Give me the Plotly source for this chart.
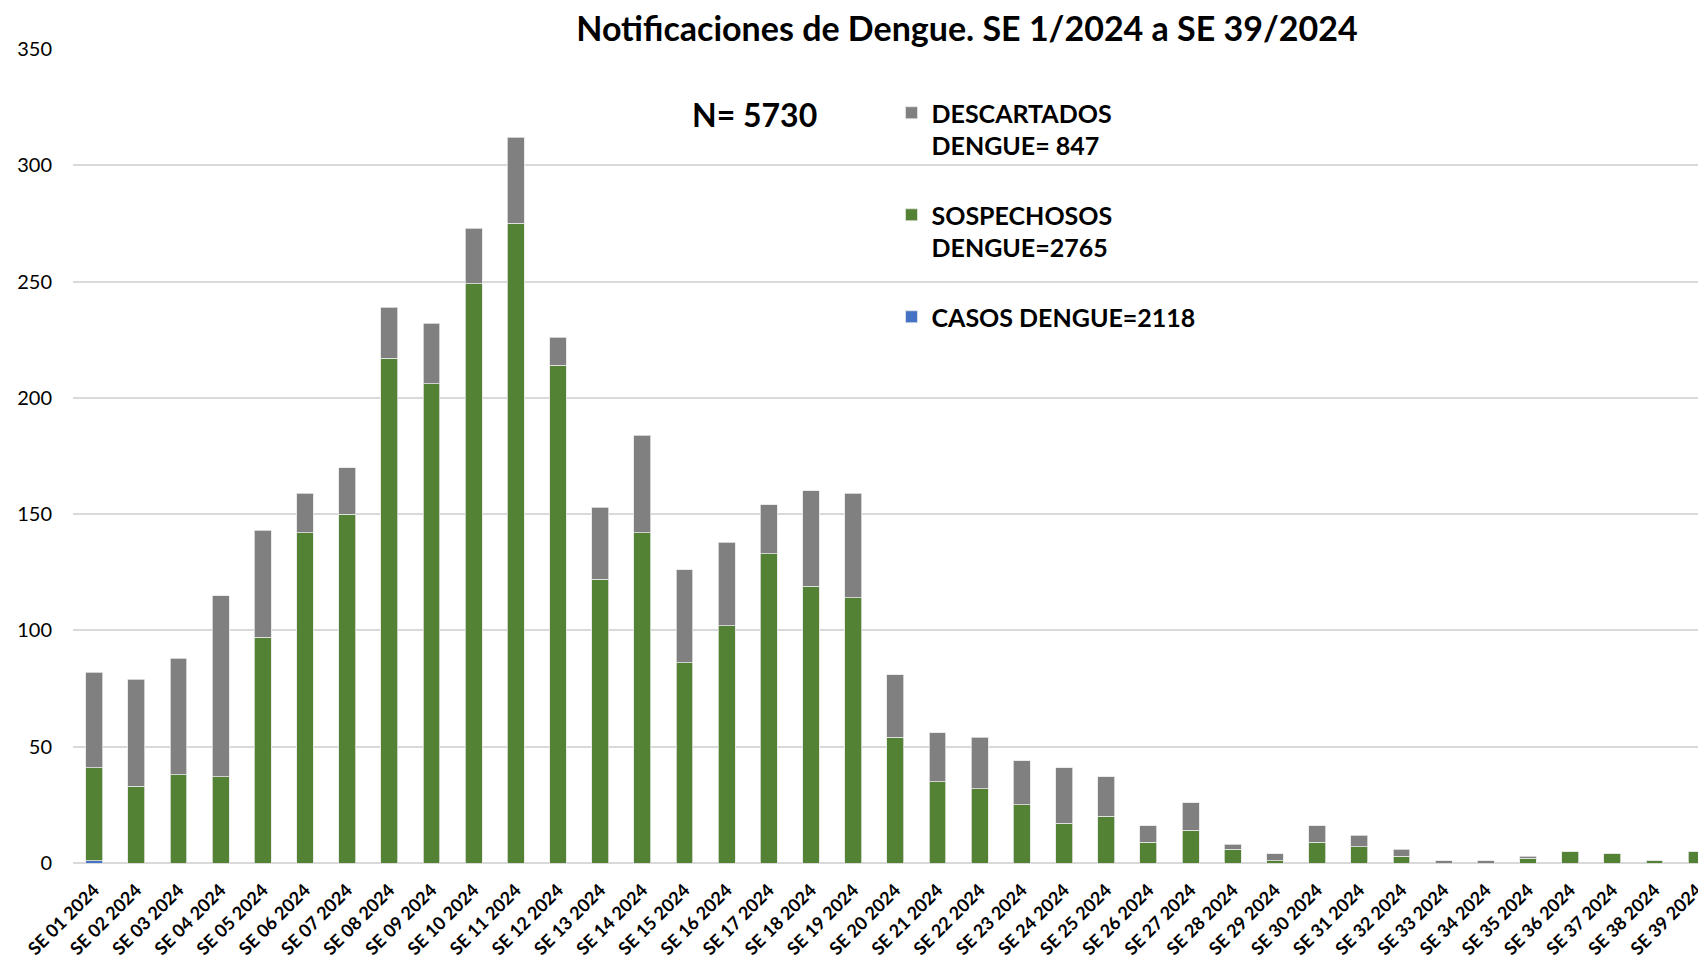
import plotly.graph_objects as go

semanas = ["SE 01 2024", "SE 02 2024", "SE 03 2024", "SE 04 2024", "SE 05 2024", "SE 06 2024",
           "SE 07 2024", "SE 08 2024", "SE 09 2024", "SE 10 2024", "SE 11 2024", "SE 12 2024",
           "SE 13 2024", "SE 14 2024", "SE 15 2024", "SE 16 2024", "SE 17 2024", "SE 18 2024",
           "SE 19 2024", "SE 20 2024", "SE 21 2024", "SE 22 2024", "SE 23 2024", "SE 24 2024",
           "SE 25 2024", "SE 26 2024", "SE 27 2024", "SE 28 2024", "SE 29 2024", "SE 30 2024",
           "SE 31 2024", "SE 32 2024", "SE 33 2024", "SE 34 2024", "SE 35 2024", "SE 36 2024",
           "SE 37 2024", "SE 38 2024", "SE 39 2024"]

casos = [1, 0, 0, 0, 0, 0, 0, 0, 0, 0, 0, 0, 0, 0, 0, 0, 0, 0, 0, 0,
         0, 0, 0, 0, 0, 0, 0, 0, 0, 0, 0, 0, 0, 0, 0, 0, 0, 0, 0]
sospechosos = [40, 33, 38, 37, 97, 142, 150, 217, 206, 249, 275, 214, 122, 142, 86, 102, 133, 119, 114, 54,
               35, 32, 25, 17, 20, 9, 14, 6, 1, 9, 7, 3, 0, 0, 2, 5, 4, 1, 5]
descartados = [41, 46, 50, 78, 46, 17, 20, 22, 26, 24, 37, 12, 31, 42, 40, 36, 21, 41, 45, 27,
               21, 22, 19, 24, 17, 7, 12, 2, 3, 7, 5, 3, 1, 1, 1, 0, 0, 0, 0]

nombres = ["CASOS DENGUE=2118", "SOSPECHOSOS<br>DENGUE=2765", "DESCARTADOS<br>DENGUE= 847"]
colores = ["#4472C4", "#548235", "#808080"]
rangos_leyenda = [3, 2, 1]
titulo = "Notificaciones de Dengue. SE 1/2024 a SE 39/2024"
total_texto = "N= 5730"
yticks = [0, 50, 100, 150, 200, 250, 300, 350]

FONT = "Lato, 'Open Sans', sans-serif"

fig = go.Figure()
for i, (vals, name, col, rk) in enumerate(zip([casos, sospechosos, descartados], nombres, colores, rangos_leyenda)):
    fig.add_trace(go.Bar(
        x=semanas, y=vals, name=name, legendgroup=f"g{i}", legendrank=rk,
        marker=dict(color=col, line=dict(color="#e6e6e6", width=0.8)),
    ))

# page body has an 8px default margin; figure occupies (8,8)-(1706,960)
OFF = 8
W, H = 1706 - OFF, 960 - OFF
ML, MR, MT, MB = 73 - OFF, 0, 49 - OFF, 97
PW = W - ML - MR
PH = H - MT - MB
Y0 = 863 - OFF  # pixel y of the zero line in figure coords

fig.update_layout(
    width=W, height=H,
    barmode="stack", bargap=0.6,
    plot_bgcolor="white", paper_bgcolor="white",
    margin=dict(l=ML, r=MR, t=MT, b=MB),
    font=dict(family=FONT, color="black"),
    title=dict(text=f"<b>{titulo}</b>", x=(967 - OFF) / W, xref="container", xanchor="center",
               y=1 - (29 - OFF) / H, yref="container", yanchor="middle",
               font=dict(size=34, family=FONT, color="black")),
    legend=dict(
        x=(893 - OFF - ML) / PW, y=(Y0 - (90 - OFF)) / PH, xanchor="left", yanchor="top",
        traceorder="grouped", tracegroupgap=34, valign="top",
        font=dict(size=25, family=FONT, color="black", weight="bold"),
        bgcolor="rgba(0,0,0,0)",
    ),
    xaxis=dict(
        range=[-0.5, 38.15], tickangle=-45, showgrid=False, showline=False,
        tickfont=dict(size=18, family=FONT, color="black", weight="bold"),
        ticks="", ticklabelstandoff=12,
    ),
    yaxis=dict(
        range=[0, 350], tickvals=yticks, showgrid=True, gridcolor="#d9d9d9", gridwidth=1.5,
        zeroline=True, zerolinecolor="#d9d9d9", zerolinewidth=1.5,
        tickfont=dict(size=20, family=FONT, color="black"), ticks="",
        ticklabelstandoff=20,
    ),
    annotations=[dict(
        text=f"<b>{total_texto}</b>", xref="paper", yref="paper",
        x=(756 - OFF - ML) / PW, y=(Y0 - (115 - OFF)) / PH, xanchor="center", yanchor="middle",
        showarrow=False, font=dict(size=32, family=FONT, color="black"),
    )],
)

fig.write_html("out.html")
